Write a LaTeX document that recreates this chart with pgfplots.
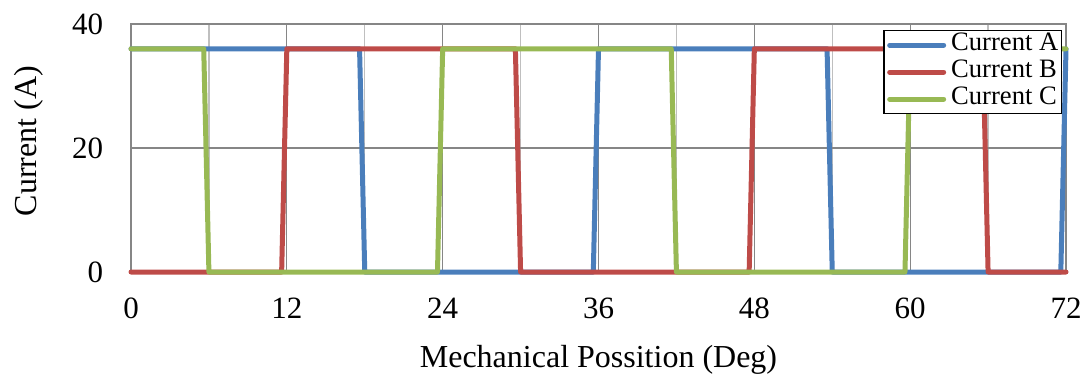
\documentclass[border=0pt]{standalone}
\usepackage{fontspec}
\setmainfont{Liberation Serif}
\usepackage{pgfplots}
\pgfplotsset{compat=1.18}
\usetikzlibrary{calc}
\definecolor{cA}{RGB}{74,126,187}
\definecolor{cB}{RGB}{190,75,72}
\definecolor{cC}{RGB}{152,185,84}
\definecolor{gmaj}{RGB}{134,134,134}
\definecolor{gmin}{RGB}{191,191,191}
\begin{document}
\begin{tikzpicture}
\begin{axis}[
  name=ax,
  scale only axis,
  width=467.5pt, height=124pt,
  xmin=0, xmax=72, ymin=0, ymax=40,
  xtick={0,12,...,72},
  minor xtick={6,18,...,66},
  ytick={0,20,40},
  major tick length=0pt, minor tick length=0pt,
  xmajorgrids, xminorgrids, ymajorgrids,
  major grid style={gmaj, line width=0.6pt},
  minor grid style={gmin, line width=0.6pt},
  axis line style={gmaj, line width=0.6pt},
  /pgf/number format/assume math mode=true,
  every tick label/.append style={font=\fontsize{15.5}{18}\selectfont, inner sep=0pt},
  xticklabel style={anchor=base, yshift=-23pt},
  yticklabel style={anchor=east, xshift=-13.8pt},
  every axis x label/.style={at={(rel axis cs:0.5,0)}, yshift=-47.5pt, anchor=base, font=\fontsize{16}{19}\selectfont},
  every axis y label/.style={at={(rel axis cs:0,0.528)}, xshift=-47.2pt, rotate=90, anchor=base, font=\fontsize{16}{19}\selectfont},
  xlabel={Mechanical Possition (Deg)},
  ylabel={Current (A)},
  clip=false,
  legend style={at={(rel axis cs:1,1)}, anchor=north east, xshift=-2pt, yshift=-3pt,
    draw=black, line width=0.7pt, fill=white, inner xsep=1.5pt, inner ysep=0.5pt,
    font=\fontsize{13.3}{13.5}\selectfont, column sep=2.5pt,
    nodes={inner sep=0pt, text height=9.5pt, text depth=4pt}},
  legend cell align=left,
  legend image code/.code={\draw[#1, line width=2.5pt, line cap=round] (1pt,0pt) -- (28pt,0pt);},
  every axis plot/.append style={line width=2.5pt, line join=round, line cap=round},
]
\addplot[cA] coordinates {(0,36) (17.6,36) (18,0) (35.6,0) (36,36) (53.6,36) (54,0) (71.6,0) (72,36)};
\addlegendentry{Current A}
\addplot[cB] coordinates {(0,0) (11.6,0) (12,36) (29.6,36) (30,0) (47.6,0) (48,36) (65.6,36) (66,0) (72,0)};
\addlegendentry{Current B}
\addplot[cC] coordinates {(0,36) (5.6,36) (6,0) (23.6,0) (24,36) (41.6,36) (42,0) (59.6,0) (60,36) (72,36)};
\addlegendentry{Current C}
\end{axis}
\pgfresetboundingbox
\path[use as bounding box] ($(ax.south west)+(-65.5pt,-53.5pt)$) rectangle ($(ax.north east)+(13pt,12pt)$);
\end{tikzpicture}
\end{document}
